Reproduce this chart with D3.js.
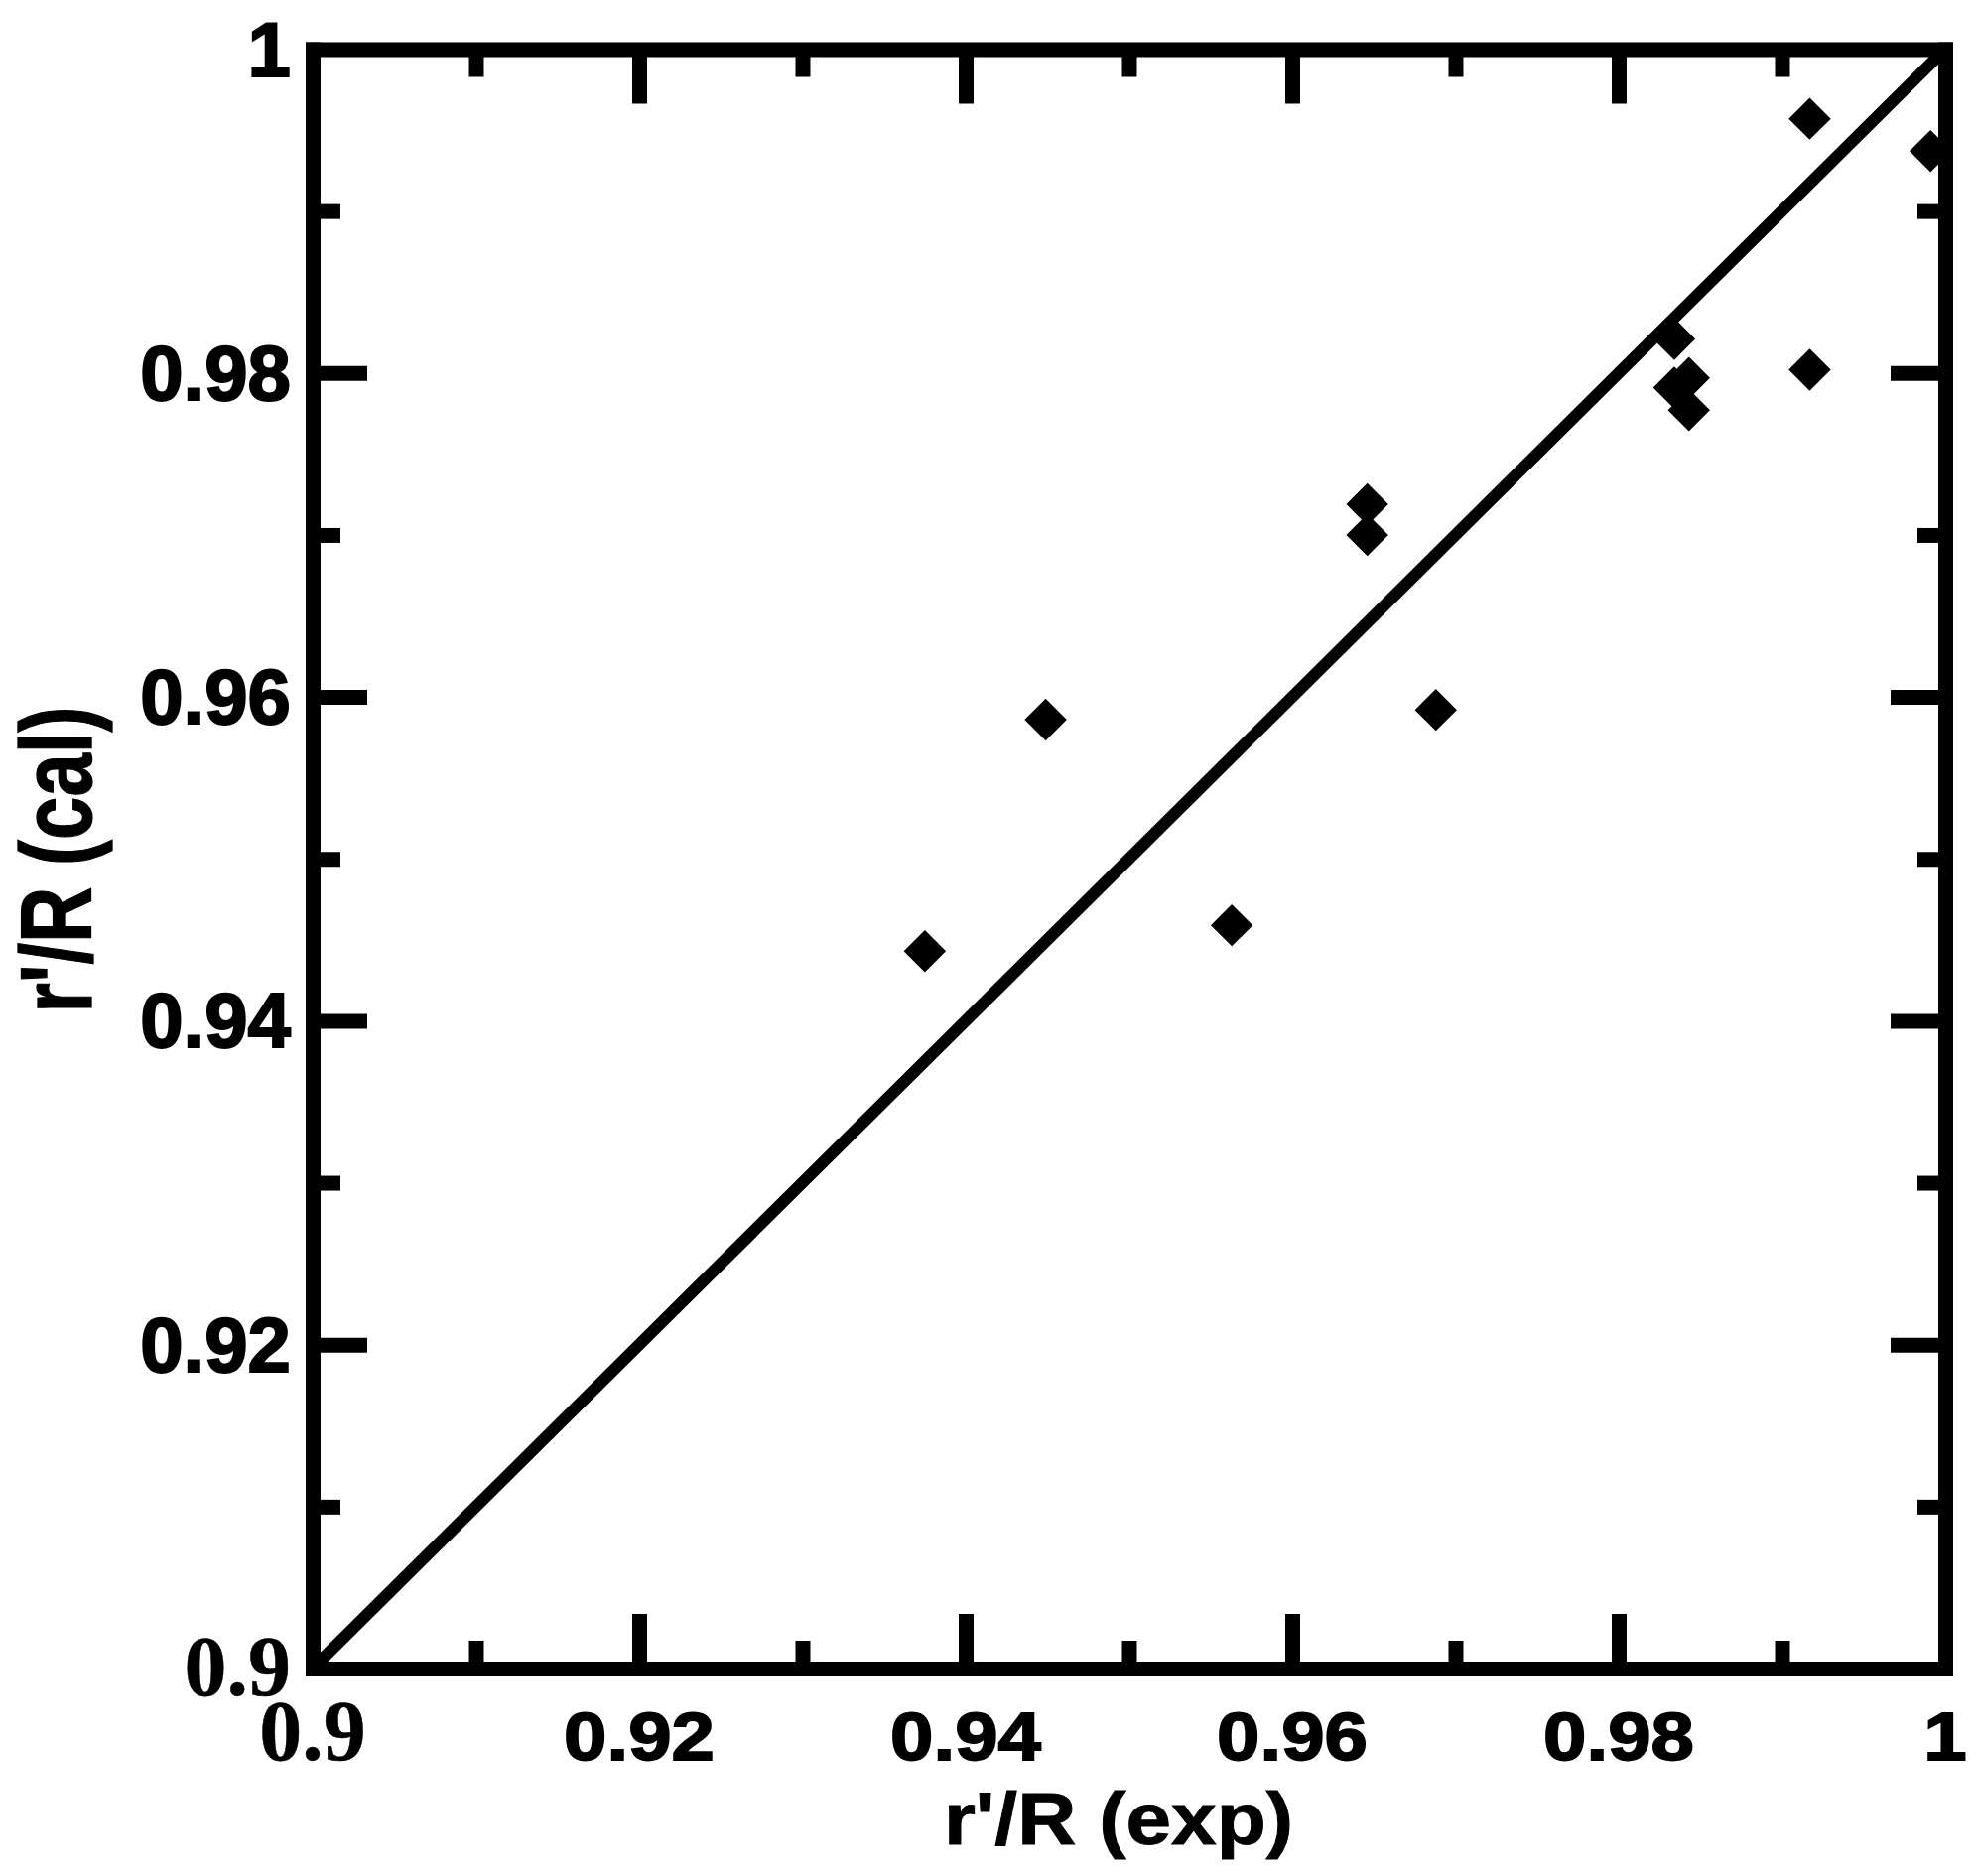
<!DOCTYPE html>
<html><head><meta charset="utf-8">
<script src="https://cdn.jsdelivr.net/npm/d3@7"></script>
<style>body{margin:0;background:#fff}svg{display:block}</style>
</head><body><svg id="c" width="1992" height="1890"></svg>
<script>
// Data
const xExp = [0.9375, 0.9449, 0.9563, 0.9646, 0.9646, 0.9688, 0.9834, 0.9843, 0.9834, 0.9843, 0.9917, 0.9917, 0.9991];
const yCal = [0.9443, 0.9586, 0.9459, 0.9719, 0.9700, 0.9592, 0.9821, 0.9797, 0.9791, 0.9777, 0.9802, 0.9957, 0.9937];
const tickValues = [0.91, 0.92, 0.93, 0.94, 0.95, 0.96, 0.97, 0.98, 0.99];
const majorTicks = [0.92, 0.94, 0.96, 0.98];
const labelValues = [0.9, 0.92, 0.94, 0.96, 0.98, 1];
const labelTexts = ["0.9", "0.92", "0.94", "0.96", "0.98", "1"];
const xTitle = "r'/R (exp)";
const yTitle = "r'/R (cal)";

const svg = d3.select("#c");
const x = d3.scaleLinear().domain([0.9, 1]).range([315, 1960]);
const y = d3.scaleLinear().domain([0.9, 1]).range([1681, 49.5]);
const isMajor = v => majorTicks.some(m => Math.abs(m - v) < 1e-9);
const MAJ = 55, MIN = 28;

// points
const pts = xExp.map((v, i) => ({x: v, y: yCal[i]}));
const sym = d3.symbol(d3.symbolSquare, 900);
svg.append("g").selectAll("path").data(pts).join("path")
  .attr("d", sym)
  .attr("transform", d => `translate(${x(d.x)},${y(d.y)}) rotate(45)`)
  .attr("fill", "#000");

// diagonal 1:1 line
svg.append("line")
  .attr("x1", x(0.9)).attr("y1", y(0.9)).attr("x2", x(1)).attr("y2", y(1))
  .attr("stroke", "#000").attr("stroke-width", 12);

// axes with inward ticks
function styleAxis(g, dir) {
  g.select(".domain").attr("stroke", "#000").attr("stroke-width", 15).attr("stroke-linecap", "square");
  g.selectAll(".tick line").attr("stroke", "#000").attr("stroke-width", 15)
    .each(function(d) {
      const L = isMajor(d) ? MAJ : MIN;
      const el = d3.select(this);
      if (dir === "bottom") el.attr("y2", -L);
      if (dir === "top") el.attr("y2", L);
      if (dir === "left") el.attr("x2", L);
      if (dir === "right") el.attr("x2", -L);
    });
  g.selectAll(".tick text").remove();
}
svg.append("g").attr("transform", `translate(0,${y(0.9)})`)
  .call(d3.axisBottom(x).tickValues(tickValues).tickSizeOuter(0)).call(g => styleAxis(g, "bottom"));
svg.append("g").attr("transform", `translate(0,${y(1)})`)
  .call(d3.axisTop(x).tickValues(tickValues).tickSizeOuter(0)).call(g => styleAxis(g, "top"));
svg.append("g").attr("transform", `translate(${x(0.9)},0)`)
  .call(d3.axisLeft(y).tickValues(tickValues).tickSizeOuter(0)).call(g => styleAxis(g, "left"));
svg.append("g").attr("transform", `translate(${x(1)},0)`)
  .call(d3.axisRight(y).tickValues(tickValues).tickSizeOuter(0)).call(g => styleAxis(g, "right"));

// tick labels
const sans = "'Liberation Sans', Arial, sans-serif";
const serif = "'Liberation Serif', 'Times New Roman', serif";
labelValues.forEach((v, i) => {
  const first = i === 0;
  // x labels
  svg.append("text")
    .attr("transform", `translate(${x(v)},1773) scale(1,${first ? 1 : 0.88})`)
    .attr("text-anchor", "middle")
    .attr("font-family", first ? serif : sans).attr("font-weight", "bold")
    .attr("font-size", first ? 86 : 78)
    .attr("stroke", "#000").attr("stroke-width", first ? 0.5 : 2)
    .text(labelTexts[i]);
  // y labels
  svg.append("text")
    .attr("x", 293).attr("y", first ? 1708 : y(v) + 27)
    .attr("text-anchor", "end")
    .attr("font-family", first ? serif : sans).attr("font-weight", "bold")
    .attr("font-size", first ? 86 : 78)
    .attr("stroke", "#000").attr("stroke-width", first ? 0.5 : 2)
    .text(labelTexts[i]);
});

// axis titles
svg.append("text")
  .attr("transform", `translate(1127,1858) scale(1,0.9)`)
  .attr("text-anchor", "middle")
  .attr("font-family", sans).attr("font-weight", "bold").attr("font-size", 82)
  .attr("stroke", "#000").attr("stroke-width", 1)
  .text(xTitle);
svg.append("text")
  .attr("transform", `translate(92,866) rotate(-90) scale(1,1.3)`)
  .attr("text-anchor", "middle")
  .attr("font-family", sans).attr("font-weight", "bold").attr("font-size", 78)
  .attr("stroke", "#000").attr("stroke-width", 1)
  .text(yTitle);
</script></body></html>
